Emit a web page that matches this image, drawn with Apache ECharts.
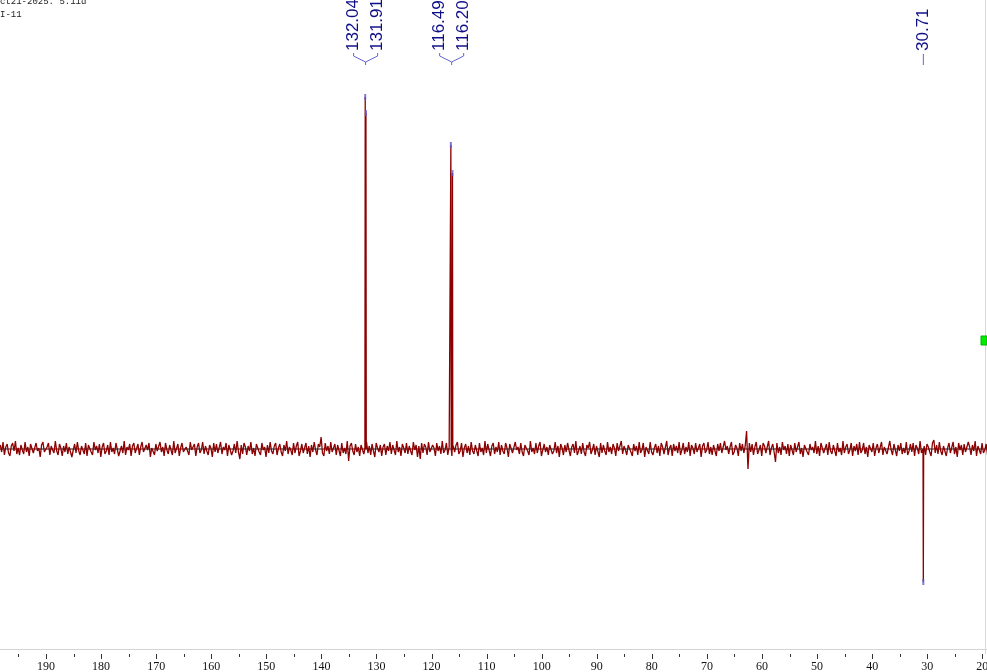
<!DOCTYPE html>
<html>
<head>
<meta charset="utf-8">
<title>ct21-2025.5.11d I-11</title>
<script src="https://cdn.jsdelivr.net/npm/echarts@6/dist/echarts.min.js"></script>
<style>
  html, body { margin: 0; padding: 0; background: #fff; }
  #main { width: 987px; height: 672px; }
</style>
</head>
<body>
<div id="main"></div>
<script>
// 谱图数据（化学位移 ppm，强度为任意单位）
const NOISE_START = 198.3;   // 噪声采样起点 ppm
const NOISE_STEP = 0.25;     // 噪声采样间隔 ppm
const noiseValues = [
  4,-3,7,-6,2,5,-4,-7,3,6,-2,8,-5,1,-6,4,-1,-5,7,-3,
  2,-7,5,3,-4,-6,6,-2,1,-8,4,7,-3,-5,2,6,-6,3,-1,-4,
  8,-2,-6,5,1,-7,3,-3,6,-5,2,4,-8,-1,5,-4,7,-2,-6,3,
  1,-5,6,-7,4,2,-3,-6,7,-1,3,-4,5,-8,2,6,-5,-2,4,-6,
  7,-3,1,-5,6,4,-7,-2,3,-4,8,-6,2,-1,5,-7,3,6,-4,-2,
  5,-6,2,7,-3,-5,4,-1,6,-8,1,3,-6,5,-2,-4,7,-3,2,-7,
  6,-1,-5,4,3,-6,8,-4,-2,5,-7,1,6,-3,-5,2,4,-6,7,-1,
  -3,5,-7,2,6,-4,-1,7,-5,3,-2,-6,4,1,-8,6,-3,5,-4,-2,
  7,-5,2,-1,6,-7,4,3,-6,-2,5,-4,8,-3,-10,4,-5,6,2,-6,
  3,-2,7,-5,1,-7,5,4,-3,-6,6,-1,2,-8,4,-4,7,-2,-5,3,
  6,-6,1,5,-3,-7,4,-2,8,-5,2,-1,-6,6,-4,3,7,-7,-2,5,
  -4,1,6,-5,3,-8,4,-3,7,-1,-6,5,2,12,-4,-7,6,-2,3,-5,
  7,-3,-1,5,-6,4,2,-7,6,-4,1,-5,8,-12,3,6,-2,-6,5,-3,
  2,-7,4,6,-5,-1,7,-4,3,-6,5,-2,-8,6,1,-3,4,-7,2,5,
  -6,3,-2,7,-5,4,-1,-6,8,-3,2,-7,5,1,-4,6,-5,3,-2,-6,
  7,-1,4,-8,3,-10,6,-4,5,2,-6,7,-3,-5,4,1,-7,6,-2,3,
  -5,8,-4,-1,6,-6,2,5,-7,3,-3,4,7,-5,-2,6,-8,1,5,-4,
  3,-6,7,-2,-5,4,2,-7,6,-3,1,-6,8,-4,5,-1,-7,3,6,-5,
  2,-3,7,-6,4,-2,-5,6,1,-8,5,3,-4,-6,7,-1,2,-5,6,-3,
  -7,4,5,-2,-6,8,-3,1,-5,6,-4,3,7,-7,-1,5,-3,2,-6,4,
  6,-5,-2,7,-4,3,-8,5,1,-6,4,-3,6,-1,-7,2,5,-4,8,-6,
  -2,3,-5,6,-3,-7,4,1,7,-5,-1,5,-6,3,2,-8,6,-4,4,-2,
  -6,7,-3,2,-5,5,1,-7,6,-2,-4,8,-5,3,-1,-6,4,6,-3,-7,
  5,-2,3,-6,7,-4,-1,6,-8,2,4,-5,7,-3,-6,1,5,-4,3,-7,
  6,2,-5,-3,8,-6,1,4,-7,5,-2,3,-4,7,-6,-1,6,-5,2,-3,
  7,-7,4,1,-5,6,-3,-2,5,-8,3,6,-4,-1,7,-5,2,-6,4,3,
  -7,5,-2,6,-4,-6,8,-1,3,-5,2,7,-6,-3,4,1,-7,6,-2,5,
  -4,3,18,-20,6,-3,5,-6,2,7,-5,-1,4,-7,6,3,-4,-2,8,-6,
  1,5,-3,-13,6,-4,2,-6,7,-1,3,-5,5,-7,4,2,-6,6,-3,-2,
  7,-5,1,-8,4,6,-3,-6,5,-1,2,-4,8,-5,3,-7,6,1,-4,-3,
  5,-6,7,-2,-5,4,3,-7,6,-3,1,-6,8,-4,2,5,-5,-1,6,-7,
  3,-2,5,-6,7,-4,-1,6,-5,2,-8,4,3,-3,6,-7,1,5,-4,-2,
  7,-6,2,4,-5,-3,8,-1,-6,5,3,-7,4,-2,6,-5,1,-4,7,-6,
  -2,5,-3,6,-7,4,1,-5,8,-4,-1,3,-6,5,2,-3,-7,6,9,-4,
  4,-5,7,-2,-6,3,5,-7,1,6,-4,-3,7,-5,2,-8,6,-1,4,-6,
  5,-3,-5,7,2,-6,4,-2,8,-7,3,1,-5,6,-4,-1,5,-6
];

// 峰位置与峰高
const peakPpm = [132.04, 131.91, 116.49, 116.20, 30.71];
const peakHeight = [352, 336, 304, 276, -133];
// 峰标注分组（同组共用一个括号）
const labelGroups = [[0, 1], [2, 3], [4]];

// 刻度
const majorTicks = [20, 30, 40, 50, 60, 70, 80, 90, 100, 110, 120, 130, 140, 150, 160, 170, 180, 190];
const minorTicks = [25, 35, 45, 55, 65, 75, 85, 95, 105, 115, 125, 135, 145, 155, 165, 175, 185, 195];

const X_MIN = 19.15, X_MAX = 198.35;
const Y_MIN = -205, Y_MAX = 449;
const PEAK_HALF = 0.06; // 峰底半宽，使峰成细线

// 合并噪声与峰，按 ppm 从大到小排列
const specData = [];
for (let i = 0; i < noiseValues.length; i++) {
  const ppm = +(NOISE_START - NOISE_STEP * i).toFixed(2);
  let nearPeak = false;
  for (let k = 0; k < peakPpm.length; k++) {
    if (Math.abs(ppm - peakPpm[k]) < 0.09) nearPeak = true;
  }
  if (!nearPeak) specData.push([ppm, noiseValues[i]]);
}
for (let k = 0; k < peakPpm.length; k++) {
  specData.push([peakPpm[k] + PEAK_HALF, 0]);
  specData.push([peakPpm[k], peakHeight[k]]);
  specData.push([peakPpm[k] - PEAK_HALF, 0]);
}
specData.sort((a, b) => b[0] - a[0]);

// 刻度数据：[ppm, 是否大刻度]
const tickData = majorTicks.map(v => [v, 1]).concat(minorTicks.map(v => [v, 0]));

const LABEL_COLOR = '#0e0e86';
const BRACKET_COLOR = '#6464cc';

function renderLabels(params, api) { //画峰标注和括号
  const g = labelGroups[api.value(0)];
  let sum = 0;
  g.forEach(k => { sum += peakPpm[k]; });
  const apexX = api.coord([sum / g.length, 0])[0];
  const children = [];
  const n = g.length;
  g.forEach((k, j) => {
    const lx = apexX + (j - (n - 1) / 2) * 24;
    children.push({
      type: 'text',
      x: lx,
      y: 51,
      rotation: Math.PI / 2,
      style: {
        text: peakPpm[k].toFixed(2),
        fill: LABEL_COLOR,
        font: '17px "Liberation Sans", Arial, sans-serif',
        textAlign: 'left',
        textVerticalAlign: 'middle'
      }
    });
    if (n > 1) {
      children.push({
        type: 'polyline',
        shape: { points: [[lx, 53], [lx, 56], [apexX, 62]] },
        style: { stroke: BRACKET_COLOR, lineWidth: 1, fill: null }
      });
    }
  });
  children.push({
    type: 'line',
    shape: { x1: apexX, y1: n > 1 ? 62 : 54, x2: apexX, y2: 65 },
    style: { stroke: BRACKET_COLOR, lineWidth: 1 }
  });
  return { type: 'group', children: children };
}

function renderTicks(params, api) { //画刻度线
  const p = api.coord([api.value(0), Y_MIN]);
  const len = api.value(1) ? 5 : 3;
  const x = Math.round(p[0]) + 0.5;
  return {
    type: 'line',
    shape: { x1: x, y1: p[1], x2: x, y2: p[1] + len },
    style: { stroke: '#333', lineWidth: 1 }
  };
}

const chart = echarts.init(document.getElementById('main'), null, { renderer: 'canvas' });

const option = {
  animation: false,
  backgroundColor: '#fff',
  grid: { left: 0, right: 0, top: 0, bottom: 18, containLabel: false, outerBoundsMode: 'none' },
  xAxis: {
    type: 'value',
    inverse: true,
    min: X_MIN,
    max: X_MAX,
    position: 'bottom',
    axisLine: { show: true, lineStyle: { color: '#8a8a8a', width: 2 } },
    axisTick: { show: false },
    axisLabel: {
      customValues: majorTicks,
      margin: 7,
      color: '#111',
      fontSize: 12,
      fontFamily: '"Liberation Serif", "Times New Roman", serif'
    },
    splitLine: { show: false }
  },
  yAxis: {
    type: 'value',
    min: Y_MIN,
    max: Y_MAX,
    show: false
  },
  graphic: [
    { type: 'text', left: 0, top: -3, style: { text: 'ct21-2025. 5.11d', fill: '#222', font: '9px "Liberation Mono", monospace' } },
    { type: 'text', left: 0, top: 10, style: { text: 'I-11', fill: '#222', font: '9px "Liberation Mono", monospace' } },
    { type: 'line', shape: { x1: 0, y1: 649.5, x2: 987, y2: 649.5 }, style: { stroke: '#d4d4d4', lineWidth: 1 } },
    { type: 'line', shape: { x1: 985.5, y1: 0, x2: 985.5, y2: 654 }, style: { stroke: '#d8d8d8', lineWidth: 1 } },
    { type: 'rect', shape: { x: 981, y: 336, width: 6, height: 9 }, style: { fill: '#00ee00', stroke: '#00b000', lineWidth: 1 } }
  ],
  series: [{
    name: 'spectrum',
    type: 'line',
    data: specData,
    showSymbol: false,
    symbol: 'none',
    sampling: false,
    lineStyle: { color: '#8b0000', width: 1.3 },
    silent: true,
    z: 2
  }, {
    name: 'peakTop',
    type: 'scatter',
    data: peakPpm.map((p, k) => [p, peakHeight[k]]),
    symbol: 'rect',
    symbolSize: [2, 6],
    itemStyle: { color: '#5a5ad2' },
    silent: true,
    z: 3
  }, {
    name: 'labels',
    type: 'custom',
    data: labelGroups.map((g, i) => [i]),
    renderItem: renderLabels,
    clip: false,
    silent: true,
    z: 4
  }, {
    name: 'ticks',
    type: 'custom',
    data: tickData,
    renderItem: renderTicks,
    clip: false,
    silent: true,
    z: 5
  }]
};

chart.setOption(option);
</script>
</body>
</html>
